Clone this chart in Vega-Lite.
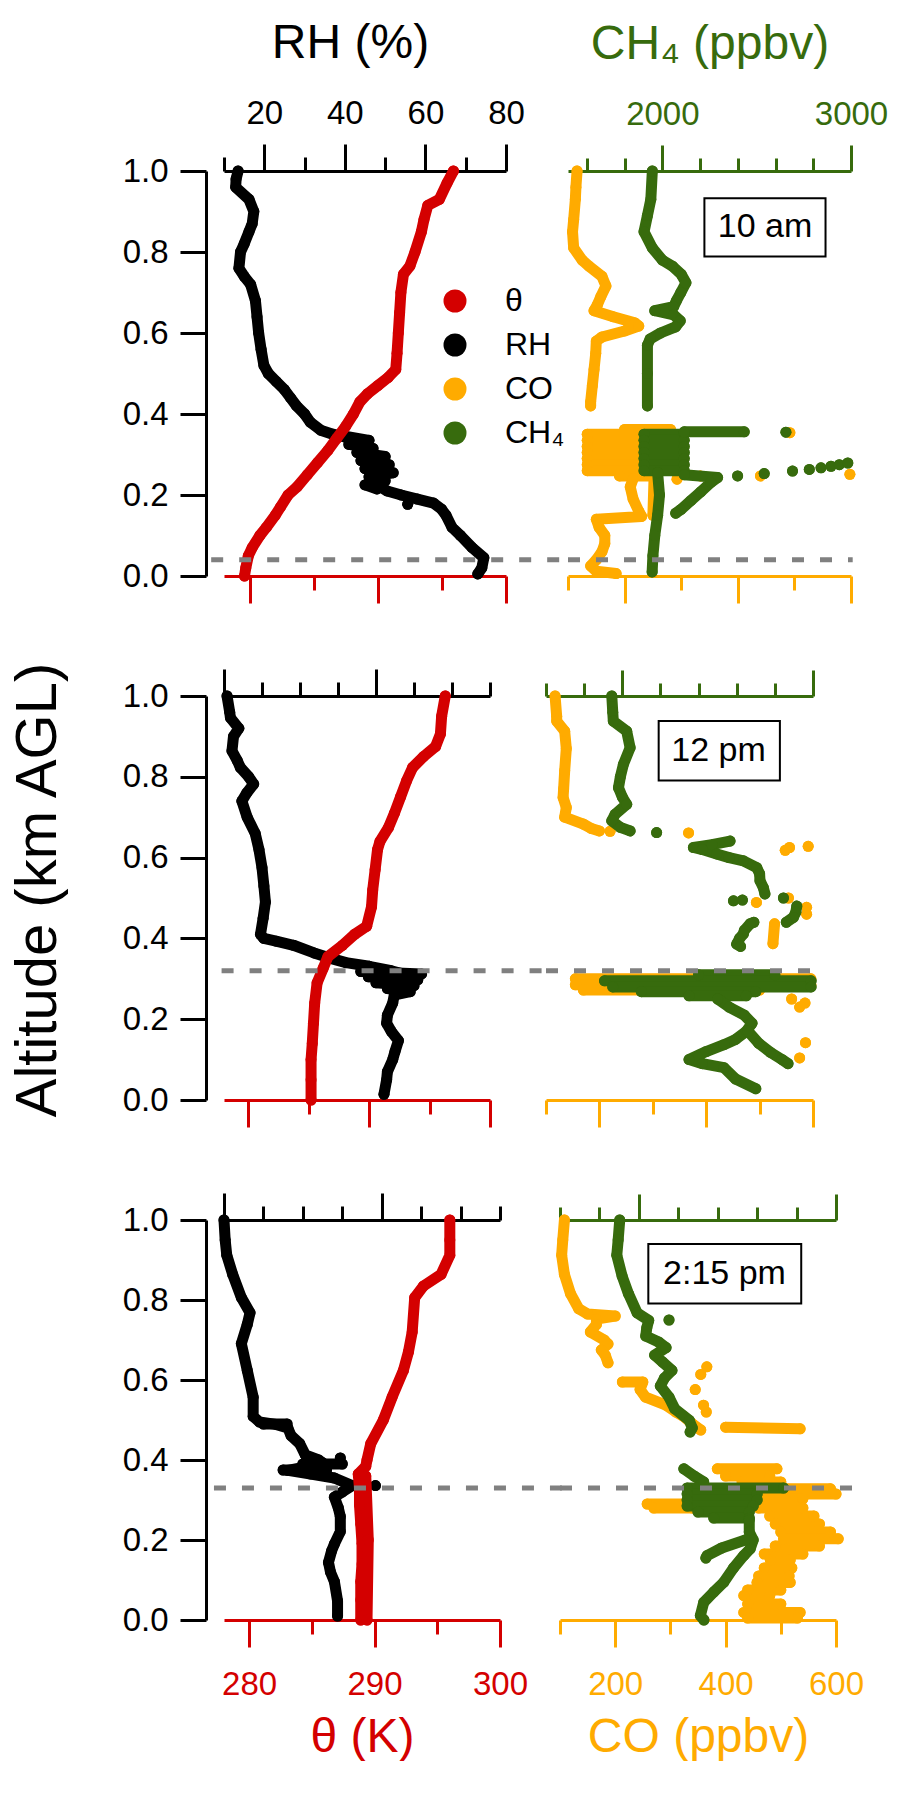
{
"$schema":"https://vega.github.io/schema/vega-lite/v6.json",
"padding":{"left":10,"top":19,"right":0,"bottom":0},
"background":"white",
"title":{"text":"Altitude (km AGL)","orient":"left","anchor":"middle","fontSize":58,"fontWeight":"normal","offset":54,"font":"Liberation Sans","color":"black"},
"data":{"values":[
{"p":1,"v":"θ","s":0,"a":1,"x":295.9},{"p":1,"v":"θ","s":0,"a":0.97,"x":295.4},{"p":1,"v":"θ","s":0,"a":0.93,"x":294.8},{"p":1,"v":"θ","s":0,"a":0.915,"x":293.9},{"p":1,"v":"θ","s":0,"a":0.88,"x":293.6},{"p":1,"v":"θ","s":0,"a":0.85,"x":293.4},{"p":1,"v":"θ","s":0,"a":0.8,"x":292.9},{"p":1,"v":"θ","s":0,"a":0.765,"x":292.5},{"p":1,"v":"θ","s":0,"a":0.745,"x":292.0},{"p":1,"v":"θ","s":0,"a":0.7,"x":291.8},{"p":1,"v":"θ","s":0,"a":0.65,"x":291.7},{"p":1,"v":"θ","s":0,"a":0.6,"x":291.6},{"p":1,"v":"θ","s":0,"a":0.55,"x":291.5},{"p":1,"v":"θ","s":0,"a":0.51,"x":291.4},{"p":1,"v":"θ","s":0,"a":0.49,"x":290.8},{"p":1,"v":"θ","s":0,"a":0.47,"x":290.0},{"p":1,"v":"θ","s":0,"a":0.45,"x":289.2},{"p":1,"v":"θ","s":0,"a":0.43,"x":288.6},{"p":1,"v":"θ","s":0,"a":0.4,"x":288.1},{"p":1,"v":"θ","s":0,"a":0.37,"x":287.5},{"p":1,"v":"θ","s":0,"a":0.34,"x":286.8},{"p":1,"v":"θ","s":0,"a":0.31,"x":286.1},{"p":1,"v":"θ","s":0,"a":0.28,"x":285.3},{"p":1,"v":"θ","s":0,"a":0.25,"x":284.5},{"p":1,"v":"θ","s":0,"a":0.22,"x":283.7},{"p":1,"v":"θ","s":0,"a":0.2,"x":283.0},{"p":1,"v":"θ","s":0,"a":0.17,"x":282.4},{"p":1,"v":"θ","s":0,"a":0.15,"x":282.0},{"p":1,"v":"θ","s":0,"a":0.12,"x":281.3},{"p":1,"v":"θ","s":0,"a":0.1,"x":280.8},{"p":1,"v":"θ","s":0,"a":0.07,"x":280.2},{"p":1,"v":"θ","s":0,"a":0.05,"x":279.9},{"p":1,"v":"θ","s":0,"a":0.02,"x":279.7},{"p":1,"v":"θ","s":0,"a":0,"x":279.6},
{"p":1,"v":"RH","s":0,"a":1,"x":13.5},{"p":1,"v":"RH","s":0,"a":0.98,"x":13.0},{"p":1,"v":"RH","s":0,"a":0.96,"x":12.9},{"p":1,"v":"RH","s":0,"a":0.93,"x":16.2},{"p":1,"v":"RH","s":0,"a":0.9,"x":17.4},{"p":1,"v":"RH","s":0,"a":0.87,"x":17.0},{"p":1,"v":"RH","s":0,"a":0.85,"x":16.2},{"p":1,"v":"RH","s":0,"a":0.82,"x":15.0},{"p":1,"v":"RH","s":0,"a":0.8,"x":14.1},{"p":1,"v":"RH","s":0,"a":0.76,"x":13.7},{"p":1,"v":"RH","s":0,"a":0.74,"x":15.0},{"p":1,"v":"RH","s":0,"a":0.72,"x":16.6},{"p":1,"v":"RH","s":0,"a":0.68,"x":17.8},{"p":1,"v":"RH","s":0,"a":0.64,"x":18.2},{"p":1,"v":"RH","s":0,"a":0.6,"x":18.6},{"p":1,"v":"RH","s":0,"a":0.56,"x":19.2},{"p":1,"v":"RH","s":0,"a":0.52,"x":19.9},{"p":1,"v":"RH","s":0,"a":0.5,"x":21},{"p":1,"v":"RH","s":0,"a":0.48,"x":23},{"p":1,"v":"RH","s":0,"a":0.46,"x":25},{"p":1,"v":"RH","s":0,"a":0.44,"x":26.5},{"p":1,"v":"RH","s":0,"a":0.42,"x":28},{"p":1,"v":"RH","s":0,"a":0.4,"x":30},{"p":1,"v":"RH","s":0,"a":0.38,"x":31.4},{"p":1,"v":"RH","s":0,"a":0.36,"x":34},{"p":1,"v":"RH","s":0,"a":0.35,"x":37},{"p":1,"v":"RH","s":0,"a":0.345,"x":39.5},{"p":1,"v":"RH","s":0,"a":0.33,"x":43},{"p":1,"v":"RH","s":0,"a":0.31,"x":44},{"p":1,"v":"RH","s":0,"a":0.29,"x":45.7},{"p":1,"v":"RH","s":0,"a":0.27,"x":47},{"p":1,"v":"RH","s":0,"a":0.25,"x":48.6},{"p":1,"v":"RH","s":0,"a":0.23,"x":47.2},{"p":1,"v":"RH","s":0,"a":0.21,"x":50.5},{"p":1,"v":"RH","s":0,"a":0.2,"x":54},{"p":1,"v":"RH","s":0,"a":0.19,"x":58},{"p":1,"v":"RH","s":0,"a":0.18,"x":62},{"p":1,"v":"RH","s":0,"a":0.165,"x":64},{"p":1,"v":"RH","s":0,"a":0.15,"x":65.1},{"p":1,"v":"RH","s":0,"a":0.12,"x":66.6},{"p":1,"v":"RH","s":0,"a":0.1,"x":68.7},{"p":1,"v":"RH","s":0,"a":0.07,"x":71.6},{"p":1,"v":"RH","s":0,"a":0.045,"x":74.5},{"p":1,"v":"RH","s":0,"a":0.02,"x":74},{"p":1,"v":"RH","s":0,"a":0.005,"x":73},
{"p":1,"v":"RH","s":1,"a":0.345,"x":40},{"p":1,"v":"RH","s":1,"a":0.335,"x":46},{"p":1,"v":"RH","s":1,"a":0.325,"x":41},{"p":1,"v":"RH","s":1,"a":0.315,"x":47},{"p":1,"v":"RH","s":1,"a":0.305,"x":43},{"p":1,"v":"RH","s":1,"a":0.295,"x":50},{"p":1,"v":"RH","s":1,"a":0.285,"x":44},{"p":1,"v":"RH","s":1,"a":0.275,"x":51},{"p":1,"v":"RH","s":1,"a":0.265,"x":45},{"p":1,"v":"RH","s":1,"a":0.255,"x":52},{"p":1,"v":"RH","s":1,"a":0.245,"x":46},{"p":1,"v":"RH","s":1,"a":0.235,"x":50},{"p":1,"v":"RH","s":1,"a":0.225,"x":45},{"p":1,"v":"RH","s":1,"a":0.215,"x":48},{"p":1,"v":"RH","s":5,"a":0.177,"x":55.6},
{"p":1,"v":"CO","s":0,"a":1,"x":116},{"p":1,"v":"CO","s":0,"a":0.96,"x":114},{"p":1,"v":"CO","s":0,"a":0.93,"x":113},{"p":1,"v":"CO","s":0,"a":0.88,"x":110},{"p":1,"v":"CO","s":0,"a":0.85,"x":108},{"p":1,"v":"CO","s":0,"a":0.81,"x":110},{"p":1,"v":"CO","s":0,"a":0.78,"x":125},{"p":1,"v":"CO","s":0,"a":0.765,"x":137},{"p":1,"v":"CO","s":0,"a":0.74,"x":160},{"p":1,"v":"CO","s":0,"a":0.716,"x":167},{"p":1,"v":"CO","s":0,"a":0.69,"x":158},{"p":1,"v":"CO","s":0,"a":0.67,"x":152},{"p":1,"v":"CO","s":0,"a":0.655,"x":146},{"p":1,"v":"CO","s":0,"a":0.64,"x":180},{"p":1,"v":"CO","s":0,"a":0.625,"x":218},{"p":1,"v":"CO","s":0,"a":0.617,"x":225},{"p":1,"v":"CO","s":0,"a":0.605,"x":200},{"p":1,"v":"CO","s":0,"a":0.59,"x":160},{"p":1,"v":"CO","s":0,"a":0.58,"x":150},{"p":1,"v":"CO","s":0,"a":0.55,"x":149},{"p":1,"v":"CO","s":0,"a":0.51,"x":146},{"p":1,"v":"CO","s":0,"a":0.47,"x":143},{"p":1,"v":"CO","s":0,"a":0.43,"x":140},{"p":1,"v":"CO","s":0,"a":0.42,"x":140},
{"p":1,"v":"CO","s":1,"a":0.362,"x":200},{"p":1,"v":"CO","s":1,"a":0.362,"x":281},{"p":1,"v":"CO","s":2,"a":0.35,"x":134},{"p":1,"v":"CO","s":2,"a":0.35,"x":260},{"p":1,"v":"CO","s":3,"a":0.335,"x":134},{"p":1,"v":"CO","s":3,"a":0.335,"x":234},{"p":1,"v":"CO","s":4,"a":0.32,"x":134},{"p":1,"v":"CO","s":4,"a":0.32,"x":234},{"p":1,"v":"CO","s":5,"a":0.305,"x":134},{"p":1,"v":"CO","s":5,"a":0.305,"x":234},{"p":1,"v":"CO","s":6,"a":0.29,"x":134},{"p":1,"v":"CO","s":6,"a":0.29,"x":234},{"p":1,"v":"CO","s":7,"a":0.275,"x":134},{"p":1,"v":"CO","s":7,"a":0.275,"x":234},{"p":1,"v":"CO","s":8,"a":0.26,"x":134},{"p":1,"v":"CO","s":8,"a":0.26,"x":234},{"p":1,"v":"CO","s":9,"a":0.247,"x":191},{"p":1,"v":"CO","s":9,"a":0.247,"x":252},
{"p":1,"v":"CO","s":10,"a":0.24,"x":215},{"p":1,"v":"CO","s":10,"a":0.22,"x":210},{"p":1,"v":"CO","s":10,"a":0.19,"x":215},{"p":1,"v":"CO","s":10,"a":0.16,"x":225},{"p":1,"v":"CO","s":10,"a":0.147,"x":230},{"p":1,"v":"CO","s":10,"a":0.14,"x":150},{"p":1,"v":"CO","s":10,"a":0.12,"x":155},{"p":1,"v":"CO","s":10,"a":0.1,"x":165},{"p":1,"v":"CO","s":10,"a":0.08,"x":165},{"p":1,"v":"CO","s":10,"a":0.06,"x":160},{"p":1,"v":"CO","s":10,"a":0.04,"x":150},{"p":1,"v":"CO","s":10,"a":0.025,"x":140},{"p":1,"v":"CO","s":10,"a":0.012,"x":150},{"p":1,"v":"CO","s":10,"a":0.006,"x":185},
{"p":1,"v":"CO","s":11,"a":0.24,"x":252},{"p":1,"v":"CO","s":11,"a":0.15,"x":250},{"p":1,"v":"CO","s":20,"a":0.239,"x":292.6},{"p":1,"v":"CO","s":21,"a":0.247,"x":334},{"p":1,"v":"CO","s":22,"a":0.247,"x":440},{"p":1,"v":"CO","s":23,"a":0.251,"x":598},{"p":1,"v":"CO","s":24,"a":0.354,"x":492},
{"p":1,"v":"CH₄","s":0,"a":1,"x":1947},{"p":1,"v":"CH₄","s":0,"a":0.93,"x":1939},{"p":1,"v":"CH₄","s":0,"a":0.89,"x":1921},{"p":1,"v":"CH₄","s":0,"a":0.85,"x":1903},{"p":1,"v":"CH₄","s":0,"a":0.81,"x":1947},{"p":1,"v":"CH₄","s":0,"a":0.78,"x":2000},{"p":1,"v":"CH₄","s":0,"a":0.765,"x":2054},{"p":1,"v":"CH₄","s":0,"a":0.745,"x":2100},{"p":1,"v":"CH₄","s":0,"a":0.724,"x":2125},{"p":1,"v":"CH₄","s":0,"a":0.7,"x":2098},{"p":1,"v":"CH₄","s":0,"a":0.68,"x":2075},{"p":1,"v":"CH₄","s":0,"a":0.665,"x":2060},{"p":1,"v":"CH₄","s":0,"a":0.655,"x":1960},{"p":1,"v":"CH₄","s":0,"a":0.645,"x":2060},{"p":1,"v":"CH₄","s":0,"a":0.63,"x":2095},{"p":1,"v":"CH₄","s":0,"a":0.615,"x":2070},{"p":1,"v":"CH₄","s":0,"a":0.6,"x":1990},{"p":1,"v":"CH₄","s":0,"a":0.585,"x":1935},{"p":1,"v":"CH₄","s":0,"a":0.57,"x":1921},{"p":1,"v":"CH₄","s":0,"a":0.5,"x":1921},{"p":1,"v":"CH₄","s":0,"a":0.42,"x":1921},
{"p":1,"v":"CH₄","s":1,"a":0.35,"x":1903},{"p":1,"v":"CH₄","s":1,"a":0.35,"x":2116},{"p":1,"v":"CH₄","s":2,"a":0.335,"x":1903},{"p":1,"v":"CH₄","s":2,"a":0.335,"x":2116},{"p":1,"v":"CH₄","s":3,"a":0.32,"x":1903},{"p":1,"v":"CH₄","s":3,"a":0.32,"x":2116},{"p":1,"v":"CH₄","s":4,"a":0.305,"x":1903},{"p":1,"v":"CH₄","s":4,"a":0.305,"x":2116},{"p":1,"v":"CH₄","s":5,"a":0.29,"x":1903},{"p":1,"v":"CH₄","s":5,"a":0.29,"x":2116},{"p":1,"v":"CH₄","s":6,"a":0.275,"x":1903},{"p":1,"v":"CH₄","s":6,"a":0.275,"x":2116},{"p":1,"v":"CH₄","s":7,"a":0.26,"x":1903},{"p":1,"v":"CH₄","s":7,"a":0.26,"x":2116},
{"p":1,"v":"CH₄","s":8,"a":0.356,"x":2116},{"p":1,"v":"CH₄","s":8,"a":0.356,"x":2434},{"p":1,"v":"CH₄","s":20,"a":0.355,"x":2655},
{"p":1,"v":"CH₄","s":21,"a":0.247,"x":2399},{"p":1,"v":"CH₄","s":22,"a":0.253,"x":2540},{"p":1,"v":"CH₄","s":23,"a":0.259,"x":2690},{"p":1,"v":"CH₄","s":24,"a":0.263,"x":2779},{"p":1,"v":"CH₄","s":25,"a":0.267,"x":2841},{"p":1,"v":"CH₄","s":26,"a":0.271,"x":2894},{"p":1,"v":"CH₄","s":27,"a":0.275,"x":2938},{"p":1,"v":"CH₄","s":28,"a":0.279,"x":2983},
{"p":1,"v":"CH₄","s":9,"a":0.25,"x":2116},{"p":1,"v":"CH₄","s":9,"a":0.243,"x":2293},{"p":1,"v":"CH₄","s":9,"a":0.231,"x":2257},{"p":1,"v":"CH₄","s":9,"a":0.208,"x":2204},{"p":1,"v":"CH₄","s":9,"a":0.186,"x":2151},{"p":1,"v":"CH₄","s":9,"a":0.164,"x":2098},{"p":1,"v":"CH₄","s":9,"a":0.155,"x":2071},
{"p":1,"v":"CH₄","s":10,"a":0.255,"x":1975},{"p":1,"v":"CH₄","s":10,"a":0.2,"x":1985},{"p":1,"v":"CH₄","s":10,"a":0.15,"x":1975},{"p":1,"v":"CH₄","s":10,"a":0.1,"x":1960},{"p":1,"v":"CH₄","s":10,"a":0.05,"x":1950},{"p":1,"v":"CH₄","s":10,"a":0.01,"x":1946},
{"p":2,"v":"θ","s":0,"a":1,"x":296.3},{"p":2,"v":"θ","s":0,"a":0.95,"x":296.0},{"p":2,"v":"θ","s":0,"a":0.906,"x":295.9},{"p":2,"v":"θ","s":0,"a":0.875,"x":295.5},{"p":2,"v":"θ","s":0,"a":0.85,"x":294.5},{"p":2,"v":"θ","s":0,"a":0.823,"x":293.6},{"p":2,"v":"θ","s":0,"a":0.79,"x":293.1},{"p":2,"v":"θ","s":0,"a":0.75,"x":292.6},{"p":2,"v":"θ","s":0,"a":0.71,"x":292.1},{"p":2,"v":"θ","s":0,"a":0.674,"x":291.6},{"p":2,"v":"θ","s":0,"a":0.64,"x":290.9},{"p":2,"v":"θ","s":0,"a":0.62,"x":290.7},{"p":2,"v":"θ","s":0,"a":0.57,"x":290.5},{"p":2,"v":"θ","s":0,"a":0.52,"x":290.3},{"p":2,"v":"θ","s":0,"a":0.478,"x":290.2},{"p":2,"v":"θ","s":0,"a":0.43,"x":289.8},{"p":2,"v":"θ","s":0,"a":0.41,"x":288.8},{"p":2,"v":"θ","s":0,"a":0.383,"x":287.8},{"p":2,"v":"θ","s":0,"a":0.355,"x":286.6},{"p":2,"v":"θ","s":0,"a":0.326,"x":286.2},{"p":2,"v":"θ","s":0,"a":0.29,"x":285.7},{"p":2,"v":"θ","s":0,"a":0.24,"x":285.5},{"p":2,"v":"θ","s":0,"a":0.19,"x":285.4},{"p":2,"v":"θ","s":0,"a":0.14,"x":285.3},{"p":2,"v":"θ","s":0,"a":0.1,"x":285.2},{"p":2,"v":"θ","s":0,"a":0.05,"x":285.2},{"p":2,"v":"θ","s":0,"a":0,"x":285.2},
{"p":2,"v":"RH","s":0,"a":1,"x":0.8},{"p":2,"v":"RH","s":0,"a":0.96,"x":1.5},{"p":2,"v":"RH","s":0,"a":0.946,"x":1.7},{"p":2,"v":"RH","s":0,"a":0.92,"x":3.9},{"p":2,"v":"RH","s":0,"a":0.9,"x":2.5},{"p":2,"v":"RH","s":0,"a":0.864,"x":2.1},{"p":2,"v":"RH","s":0,"a":0.84,"x":3.5},{"p":2,"v":"RH","s":0,"a":0.823,"x":4.3},{"p":2,"v":"RH","s":0,"a":0.8,"x":6.5},{"p":2,"v":"RH","s":0,"a":0.782,"x":7.8},{"p":2,"v":"RH","s":0,"a":0.76,"x":6},{"p":2,"v":"RH","s":0,"a":0.74,"x":4.7},{"p":2,"v":"RH","s":0,"a":0.7,"x":6.1},{"p":2,"v":"RH","s":0,"a":0.66,"x":8.2},{"p":2,"v":"RH","s":0,"a":0.62,"x":9.2},{"p":2,"v":"RH","s":0,"a":0.575,"x":10},{"p":2,"v":"RH","s":0,"a":0.53,"x":10.5},{"p":2,"v":"RH","s":0,"a":0.49,"x":10.9},{"p":2,"v":"RH","s":0,"a":0.45,"x":10.3},{"p":2,"v":"RH","s":0,"a":0.41,"x":9.6},{"p":2,"v":"RH","s":0,"a":0.4,"x":10.5},{"p":2,"v":"RH","s":0,"a":0.393,"x":13.7},{"p":2,"v":"RH","s":0,"a":0.383,"x":18.3},{"p":2,"v":"RH","s":0,"a":0.364,"x":23.7},{"p":2,"v":"RH","s":0,"a":0.35,"x":28.3},{"p":2,"v":"RH","s":0,"a":0.34,"x":32.1},{"p":2,"v":"RH","s":0,"a":0.331,"x":38.2},{"p":2,"v":"RH","s":0,"a":0.32,"x":44},{"p":2,"v":"RH","s":0,"a":0.31,"x":48},{"p":2,"v":"RH","s":0,"a":0.3,"x":47},{"p":2,"v":"RH","s":0,"a":0.29,"x":46},{"p":2,"v":"RH","s":0,"a":0.27,"x":45},{"p":2,"v":"RH","s":0,"a":0.24,"x":44.4},{"p":2,"v":"RH","s":0,"a":0.21,"x":43},{"p":2,"v":"RH","s":0,"a":0.19,"x":42.8},{"p":2,"v":"RH","s":0,"a":0.17,"x":44},{"p":2,"v":"RH","s":0,"a":0.147,"x":45.9},{"p":2,"v":"RH","s":0,"a":0.12,"x":45},{"p":2,"v":"RH","s":0,"a":0.1,"x":44.4},{"p":2,"v":"RH","s":0,"a":0.07,"x":43},{"p":2,"v":"RH","s":0,"a":0.05,"x":42.8},{"p":2,"v":"RH","s":0,"a":0.014,"x":42.1},
{"p":2,"v":"RH","s":1,"a":0.318,"x":36},{"p":2,"v":"RH","s":1,"a":0.312,"x":52},{"p":2,"v":"RH","s":1,"a":0.305,"x":38},{"p":2,"v":"RH","s":1,"a":0.298,"x":51},{"p":2,"v":"RH","s":1,"a":0.29,"x":40},{"p":2,"v":"RH","s":1,"a":0.283,"x":50},{"p":2,"v":"RH","s":1,"a":0.276,"x":43},{"p":2,"v":"RH","s":1,"a":0.268,"x":49},{"p":2,"v":"RH","s":1,"a":0.26,"x":45},
{"p":2,"v":"CO","s":0,"a":1,"x":117},{"p":2,"v":"CO","s":0,"a":0.95,"x":120},{"p":2,"v":"CO","s":0,"a":0.938,"x":120},{"p":2,"v":"CO","s":0,"a":0.913,"x":135},{"p":2,"v":"CO","s":0,"a":0.87,"x":138},{"p":2,"v":"CO","s":0,"a":0.815,"x":135},{"p":2,"v":"CO","s":0,"a":0.77,"x":133},{"p":2,"v":"CO","s":0,"a":0.749,"x":132},{"p":2,"v":"CO","s":0,"a":0.724,"x":138},{"p":2,"v":"CO","s":0,"a":0.7,"x":135},{"p":2,"v":"CO","s":0,"a":0.683,"x":170},{"p":2,"v":"CO","s":0,"a":0.672,"x":185},{"p":2,"v":"CO","s":0,"a":0.666,"x":200},
{"p":2,"v":"CO","s":10,"a":0.665,"x":220},{"p":2,"v":"CO","s":11,"a":0.661,"x":367},{"p":2,"v":"CO","s":12,"a":0.625,"x":556},{"p":2,"v":"CO","s":13,"a":0.618,"x":548},{"p":2,"v":"CO","s":14,"a":0.628,"x":591},{"p":2,"v":"CO","s":15,"a":0.5,"x":554},{"p":2,"v":"CO","s":16,"a":0.489,"x":494},{"p":2,"v":"CO","s":17,"a":0.477,"x":588},{"p":2,"v":"CO","s":18,"a":0.46,"x":588},{"p":2,"v":"CO","s":19,"a":0.25,"x":560},{"p":2,"v":"CO","s":20,"a":0.24,"x":585},{"p":2,"v":"CO","s":21,"a":0.23,"x":575},{"p":2,"v":"CO","s":22,"a":0.142,"x":586},{"p":2,"v":"CO","s":23,"a":0.104,"x":575},
{"p":2,"v":"CO","s":1,"a":0.436,"x":528},{"p":2,"v":"CO","s":1,"a":0.387,"x":525},{"p":2,"v":"CO","s":2,"a":0.3,"x":155},{"p":2,"v":"CO","s":2,"a":0.3,"x":596},{"p":2,"v":"CO","s":3,"a":0.285,"x":155},{"p":2,"v":"CO","s":3,"a":0.285,"x":596},{"p":2,"v":"CO","s":4,"a":0.272,"x":170},{"p":2,"v":"CO","s":4,"a":0.272,"x":500},
{"p":2,"v":"CH₄","s":0,"a":1,"x":1945},{"p":2,"v":"CH₄","s":0,"a":0.96,"x":1950},{"p":2,"v":"CH₄","s":0,"a":0.938,"x":1953},{"p":2,"v":"CH₄","s":0,"a":0.913,"x":2023},{"p":2,"v":"CH₄","s":0,"a":0.872,"x":2041},{"p":2,"v":"CH₄","s":0,"a":0.831,"x":2006},{"p":2,"v":"CH₄","s":0,"a":0.8,"x":1990},{"p":2,"v":"CH₄","s":0,"a":0.773,"x":1980},{"p":2,"v":"CH₄","s":0,"a":0.75,"x":2000},{"p":2,"v":"CH₄","s":0,"a":0.732,"x":2023},{"p":2,"v":"CH₄","s":0,"a":0.707,"x":1962},{"p":2,"v":"CH₄","s":0,"a":0.691,"x":1945},{"p":2,"v":"CH₄","s":0,"a":0.675,"x":1990},{"p":2,"v":"CH₄","s":0,"a":0.666,"x":2041},
{"p":2,"v":"CH₄","s":20,"a":0.662,"x":2180},
{"p":2,"v":"CH₄","s":1,"a":0.641,"x":2565},{"p":2,"v":"CH₄","s":1,"a":0.632,"x":2470},{"p":2,"v":"CH₄","s":1,"a":0.625,"x":2373},{"p":2,"v":"CH₄","s":1,"a":0.62,"x":2420},{"p":2,"v":"CH₄","s":1,"a":0.609,"x":2495},{"p":2,"v":"CH₄","s":1,"a":0.6,"x":2560},{"p":2,"v":"CH₄","s":1,"a":0.592,"x":2635},{"p":2,"v":"CH₄","s":1,"a":0.575,"x":2705},{"p":2,"v":"CH₄","s":1,"a":0.56,"x":2720},{"p":2,"v":"CH₄","s":1,"a":0.543,"x":2722},{"p":2,"v":"CH₄","s":1,"a":0.525,"x":2740},{"p":2,"v":"CH₄","s":1,"a":0.51,"x":2748},
{"p":2,"v":"CH₄","s":21,"a":0.493,"x":2583},{"p":2,"v":"CH₄","s":22,"a":0.495,"x":2630},{"p":2,"v":"CH₄","s":23,"a":0.5,"x":2845},
{"p":2,"v":"CH₄","s":2,"a":0.48,"x":2915},{"p":2,"v":"CH₄","s":2,"a":0.465,"x":2910},{"p":2,"v":"CH₄","s":2,"a":0.452,"x":2897},{"p":2,"v":"CH₄","s":2,"a":0.44,"x":2860},
{"p":2,"v":"CH₄","s":3,"a":0.44,"x":2690},{"p":2,"v":"CH₄","s":3,"a":0.436,"x":2670},{"p":2,"v":"CH₄","s":3,"a":0.42,"x":2640},{"p":2,"v":"CH₄","s":3,"a":0.411,"x":2635},{"p":2,"v":"CH₄","s":3,"a":0.4,"x":2615},{"p":2,"v":"CH₄","s":3,"a":0.386,"x":2600},{"p":2,"v":"CH₄","s":3,"a":0.38,"x":2620},
{"p":2,"v":"CH₄","s":4,"a":0.31,"x":2400},{"p":2,"v":"CH₄","s":4,"a":0.31,"x":2800},{"p":2,"v":"CH₄","s":5,"a":0.295,"x":1907},{"p":2,"v":"CH₄","s":5,"a":0.295,"x":2990},{"p":2,"v":"CH₄","s":6,"a":0.28,"x":1950},{"p":2,"v":"CH₄","s":6,"a":0.28,"x":2990},{"p":2,"v":"CH₄","s":7,"a":0.268,"x":2100},{"p":2,"v":"CH₄","s":7,"a":0.268,"x":2700},{"p":2,"v":"CH₄","s":8,"a":0.258,"x":2350},{"p":2,"v":"CH₄","s":8,"a":0.258,"x":2650},
{"p":2,"v":"CH₄","s":9,"a":0.25,"x":2500},{"p":2,"v":"CH₄","s":9,"a":0.23,"x":2560},{"p":2,"v":"CH₄","s":9,"a":0.21,"x":2640},{"p":2,"v":"CH₄","s":9,"a":0.19,"x":2680},{"p":2,"v":"CH₄","s":9,"a":0.17,"x":2650},{"p":2,"v":"CH₄","s":9,"a":0.15,"x":2594},{"p":2,"v":"CH₄","s":9,"a":0.137,"x":2533},{"p":2,"v":"CH₄","s":9,"a":0.12,"x":2440},{"p":2,"v":"CH₄","s":9,"a":0.1,"x":2350},{"p":2,"v":"CH₄","s":9,"a":0.09,"x":2420},{"p":2,"v":"CH₄","s":9,"a":0.08,"x":2533},{"p":2,"v":"CH₄","s":9,"a":0.052,"x":2594},{"p":2,"v":"CH₄","s":9,"a":0.028,"x":2700},
{"p":2,"v":"CH₄","s":10,"a":0.17,"x":2660},{"p":2,"v":"CH₄","s":10,"a":0.14,"x":2716},{"p":2,"v":"CH₄","s":10,"a":0.118,"x":2777},{"p":2,"v":"CH₄","s":10,"a":0.1,"x":2838},{"p":2,"v":"CH₄","s":10,"a":0.09,"x":2869},
{"p":3,"v":"θ","s":0,"a":1,"x":296.0},{"p":3,"v":"θ","s":0,"a":0.95,"x":296.0},{"p":3,"v":"θ","s":0,"a":0.912,"x":296.0},{"p":3,"v":"θ","s":0,"a":0.864,"x":295.3},{"p":3,"v":"θ","s":0,"a":0.835,"x":293.9},{"p":3,"v":"θ","s":0,"a":0.806,"x":293.2},{"p":3,"v":"θ","s":0,"a":0.72,"x":293.0},{"p":3,"v":"θ","s":0,"a":0.67,"x":292.7},{"p":3,"v":"θ","s":0,"a":0.624,"x":292.3},{"p":3,"v":"θ","s":0,"a":0.557,"x":291.4},{"p":3,"v":"θ","s":0,"a":0.5,"x":290.7},{"p":3,"v":"θ","s":0,"a":0.441,"x":289.7},{"p":3,"v":"θ","s":0,"a":0.4,"x":289.4},{"p":3,"v":"θ","s":0,"a":0.384,"x":289.3},{"p":3,"v":"θ","s":0,"a":0.365,"x":288.7},{"p":3,"v":"θ","s":0,"a":0.33,"x":288.8},{"p":3,"v":"θ","s":0,"a":0.288,"x":288.8},{"p":3,"v":"θ","s":0,"a":0.24,"x":288.9},{"p":3,"v":"θ","s":0,"a":0.192,"x":289.0},{"p":3,"v":"θ","s":0,"a":0.14,"x":289.0},{"p":3,"v":"θ","s":0,"a":0.096,"x":288.9},{"p":3,"v":"θ","s":0,"a":0.05,"x":288.9},{"p":3,"v":"θ","s":0,"a":0,"x":288.9},
{"p":3,"v":"θ","s":1,"a":0.36,"x":289.3},{"p":3,"v":"θ","s":1,"a":0.2,"x":289.5},{"p":3,"v":"θ","s":1,"a":0,"x":289.4},
{"p":3,"v":"RH","s":0,"a":1,"x":0},{"p":3,"v":"RH","s":0,"a":0.95,"x":0.3},{"p":3,"v":"RH","s":0,"a":0.912,"x":0.7},{"p":3,"v":"RH","s":0,"a":0.864,"x":2.2},{"p":3,"v":"RH","s":0,"a":0.806,"x":4.4},{"p":3,"v":"RH","s":0,"a":0.768,"x":6.6},{"p":3,"v":"RH","s":0,"a":0.739,"x":5.9},{"p":3,"v":"RH","s":0,"a":0.691,"x":4.4},{"p":3,"v":"RH","s":0,"a":0.624,"x":5.9},{"p":3,"v":"RH","s":0,"a":0.557,"x":7.4},{"p":3,"v":"RH","s":0,"a":0.509,"x":7.4},{"p":3,"v":"RH","s":0,"a":0.495,"x":9},{"p":3,"v":"RH","s":0,"a":0.489,"x":13.2},{"p":3,"v":"RH","s":0,"a":0.48,"x":16.2},{"p":3,"v":"RH","s":0,"a":0.461,"x":17},{"p":3,"v":"RH","s":0,"a":0.441,"x":19.2},{"p":3,"v":"RH","s":0,"a":0.413,"x":20.6},{"p":3,"v":"RH","s":0,"a":0.4,"x":24},{"p":3,"v":"RH","s":0,"a":0.393,"x":25},{"p":3,"v":"RH","s":0,"a":0.385,"x":22},{"p":3,"v":"RH","s":0,"a":0.374,"x":16.2},{"p":3,"v":"RH","s":0,"a":0.365,"x":22},{"p":3,"v":"RH","s":0,"a":0.355,"x":28},{"p":3,"v":"RH","s":0,"a":0.336,"x":32.5},{"p":3,"v":"RH","s":0,"a":0.32,"x":30},{"p":3,"v":"RH","s":0,"a":0.307,"x":28},{"p":3,"v":"RH","s":0,"a":0.28,"x":29},{"p":3,"v":"RH","s":0,"a":0.259,"x":29.5},{"p":3,"v":"RH","s":0,"a":0.221,"x":29.5},{"p":3,"v":"RH","s":0,"a":0.19,"x":28},{"p":3,"v":"RH","s":0,"a":0.173,"x":27.3},{"p":3,"v":"RH","s":0,"a":0.144,"x":26.5},{"p":3,"v":"RH","s":0,"a":0.12,"x":27},{"p":3,"v":"RH","s":0,"a":0.096,"x":28},{"p":3,"v":"RH","s":0,"a":0.048,"x":28.8},{"p":3,"v":"RH","s":0,"a":0.01,"x":28.8},
{"p":3,"v":"RH","s":1,"a":0.39,"x":20},{"p":3,"v":"RH","s":1,"a":0.39,"x":30},{"p":3,"v":"RH","s":2,"a":0.375,"x":15},{"p":3,"v":"RH","s":2,"a":0.375,"x":26},{"p":3,"v":"RH","s":3,"a":0.49,"x":10},{"p":3,"v":"RH","s":3,"a":0.49,"x":16},{"p":3,"v":"RH","s":20,"a":0.336,"x":38.4},{"p":3,"v":"RH","s":21,"a":0.405,"x":29.5},
{"p":3,"v":"CO","s":0,"a":1,"x":108},{"p":3,"v":"CO","s":0,"a":0.95,"x":105},{"p":3,"v":"CO","s":0,"a":0.912,"x":103},{"p":3,"v":"CO","s":0,"a":0.864,"x":108},{"p":3,"v":"CO","s":0,"a":0.816,"x":119},{"p":3,"v":"CO","s":0,"a":0.778,"x":134},{"p":3,"v":"CO","s":0,"a":0.765,"x":150},{"p":3,"v":"CO","s":0,"a":0.76,"x":200},{"p":3,"v":"CO","s":0,"a":0.752,"x":166},{"p":3,"v":"CO","s":0,"a":0.739,"x":166},{"p":3,"v":"CO","s":0,"a":0.72,"x":155},{"p":3,"v":"CO","s":0,"a":0.7,"x":180},{"p":3,"v":"CO","s":0,"a":0.69,"x":187},{"p":3,"v":"CO","s":0,"a":0.675,"x":175},{"p":3,"v":"CO","s":0,"a":0.662,"x":182},{"p":3,"v":"CO","s":0,"a":0.643,"x":187},
{"p":3,"v":"CO","s":20,"a":0.633,"x":366},{"p":3,"v":"CO","s":21,"a":0.614,"x":355},{"p":3,"v":"CO","s":22,"a":0.576,"x":345},{"p":3,"v":"CO","s":23,"a":0.537,"x":360},{"p":3,"v":"CO","s":24,"a":0.52,"x":365},
{"p":3,"v":"CO","s":1,"a":0.595,"x":213},{"p":3,"v":"CO","s":1,"a":0.595,"x":250},{"p":3,"v":"CO","s":1,"a":0.576,"x":245},{"p":3,"v":"CO","s":1,"a":0.557,"x":255},{"p":3,"v":"CO","s":1,"a":0.537,"x":292},{"p":3,"v":"CO","s":1,"a":0.52,"x":310},{"p":3,"v":"CO","s":1,"a":0.509,"x":324},{"p":3,"v":"CO","s":1,"a":0.49,"x":340},{"p":3,"v":"CO","s":1,"a":0.475,"x":355},
{"p":3,"v":"CO","s":2,"a":0.482,"x":400},{"p":3,"v":"CO","s":2,"a":0.478,"x":535},
{"p":3,"v":"CO","s":3,"a":0.378,"x":385},{"p":3,"v":"CO","s":3,"a":0.378,"x":493},{"p":3,"v":"CO","s":4,"a":0.36,"x":400},{"p":3,"v":"CO","s":4,"a":0.36,"x":480},{"p":3,"v":"CO","s":5,"a":0.345,"x":430},{"p":3,"v":"CO","s":5,"a":0.345,"x":500},{"p":3,"v":"CO","s":6,"a":0.328,"x":470},{"p":3,"v":"CO","s":6,"a":0.328,"x":590},{"p":3,"v":"CO","s":7,"a":0.315,"x":480},{"p":3,"v":"CO","s":7,"a":0.315,"x":600},{"p":3,"v":"CO","s":8,"a":0.303,"x":470},{"p":3,"v":"CO","s":8,"a":0.303,"x":540},{"p":3,"v":"CO","s":9,"a":0.29,"x":258},{"p":3,"v":"CO","s":9,"a":0.29,"x":336},{"p":3,"v":"CO","s":10,"a":0.28,"x":270},{"p":3,"v":"CO","s":10,"a":0.28,"x":340},{"p":3,"v":"CO","s":11,"a":0.28,"x":460},{"p":3,"v":"CO","s":11,"a":0.28,"x":540},{"p":3,"v":"CO","s":12,"a":0.26,"x":480},{"p":3,"v":"CO","s":12,"a":0.26,"x":560},{"p":3,"v":"CO","s":13,"a":0.24,"x":490},{"p":3,"v":"CO","s":13,"a":0.24,"x":570},{"p":3,"v":"CO","s":14,"a":0.22,"x":500},{"p":3,"v":"CO","s":14,"a":0.22,"x":590},{"p":3,"v":"CO","s":15,"a":0.203,"x":505},{"p":3,"v":"CO","s":15,"a":0.203,"x":604},{"p":3,"v":"CO","s":16,"a":0.185,"x":490},{"p":3,"v":"CO","s":16,"a":0.185,"x":570},{"p":3,"v":"CO","s":17,"a":0.165,"x":470},{"p":3,"v":"CO","s":17,"a":0.165,"x":540},{"p":3,"v":"CO","s":18,"a":0.15,"x":481},{"p":3,"v":"CO","s":18,"a":0.15,"x":517},{"p":3,"v":"CO","s":19,"a":0.13,"x":470},{"p":3,"v":"CO","s":19,"a":0.13,"x":520},{"p":3,"v":"CO","s":25,"a":0.11,"x":460},{"p":3,"v":"CO","s":25,"a":0.11,"x":515},{"p":3,"v":"CO","s":26,"a":0.094,"x":457},{"p":3,"v":"CO","s":26,"a":0.094,"x":517},{"p":3,"v":"CO","s":27,"a":0.075,"x":440},{"p":3,"v":"CO","s":27,"a":0.075,"x":500},{"p":3,"v":"CO","s":28,"a":0.061,"x":433},{"p":3,"v":"CO","s":28,"a":0.061,"x":480},{"p":3,"v":"CO","s":29,"a":0.04,"x":440},{"p":3,"v":"CO","s":29,"a":0.04,"x":500},{"p":3,"v":"CO","s":30,"a":0.019,"x":433},{"p":3,"v":"CO","s":30,"a":0.019,"x":535},{"p":3,"v":"CO","s":31,"a":0.005,"x":440},{"p":3,"v":"CO","s":31,"a":0.005,"x":530},
{"p":3,"v":"CH₄","s":0,"a":1,"x":1903},{"p":3,"v":"CH₄","s":0,"a":0.95,"x":1895},{"p":3,"v":"CH₄","s":0,"a":0.912,"x":1888},{"p":3,"v":"CH₄","s":0,"a":0.86,"x":1915},{"p":3,"v":"CH₄","s":0,"a":0.816,"x":1947},{"p":3,"v":"CH₄","s":0,"a":0.768,"x":1991},{"p":3,"v":"CH₄","s":0,"a":0.749,"x":2050},{"p":3,"v":"CH₄","s":0,"a":0.73,"x":2040},{"p":3,"v":"CH₄","s":0,"a":0.71,"x":2035},{"p":3,"v":"CH₄","s":0,"a":0.695,"x":2100},{"p":3,"v":"CH₄","s":0,"a":0.681,"x":2138},{"p":3,"v":"CH₄","s":0,"a":0.662,"x":2080},{"p":3,"v":"CH₄","s":0,"a":0.645,"x":2120},{"p":3,"v":"CH₄","s":0,"a":0.624,"x":2168},{"p":3,"v":"CH₄","s":0,"a":0.605,"x":2130},{"p":3,"v":"CH₄","s":0,"a":0.585,"x":2109},{"p":3,"v":"CH₄","s":0,"a":0.557,"x":2153},{"p":3,"v":"CH₄","s":0,"a":0.528,"x":2182},{"p":3,"v":"CH₄","s":0,"a":0.499,"x":2256},{"p":3,"v":"CH₄","s":0,"a":0.48,"x":2271},{"p":3,"v":"CH₄","s":0,"a":0.47,"x":2260},
{"p":3,"v":"CH₄","s":20,"a":0.75,"x":2153},
{"p":3,"v":"CH₄","s":1,"a":0.378,"x":2228},{"p":3,"v":"CH₄","s":1,"a":0.36,"x":2280},{"p":3,"v":"CH₄","s":1,"a":0.345,"x":2329},
{"p":3,"v":"CH₄","s":2,"a":0.33,"x":2245},{"p":3,"v":"CH₄","s":2,"a":0.33,"x":2734},{"p":3,"v":"CH₄","s":3,"a":0.315,"x":2245},{"p":3,"v":"CH₄","s":3,"a":0.315,"x":2600},{"p":3,"v":"CH₄","s":4,"a":0.3,"x":2245},{"p":3,"v":"CH₄","s":4,"a":0.3,"x":2600},{"p":3,"v":"CH₄","s":5,"a":0.285,"x":2245},{"p":3,"v":"CH₄","s":5,"a":0.285,"x":2580},{"p":3,"v":"CH₄","s":6,"a":0.27,"x":2300},{"p":3,"v":"CH₄","s":6,"a":0.27,"x":2560},{"p":3,"v":"CH₄","s":7,"a":0.255,"x":2380},{"p":3,"v":"CH₄","s":7,"a":0.255,"x":2560},
{"p":3,"v":"CH₄","s":8,"a":0.25,"x":2560},{"p":3,"v":"CH₄","s":8,"a":0.22,"x":2560},{"p":3,"v":"CH₄","s":8,"a":0.2,"x":2580},{"p":3,"v":"CH₄","s":8,"a":0.178,"x":2565},{"p":3,"v":"CH₄","s":8,"a":0.161,"x":2532},{"p":3,"v":"CH₄","s":8,"a":0.13,"x":2480},{"p":3,"v":"CH₄","s":8,"a":0.094,"x":2430},{"p":3,"v":"CH₄","s":8,"a":0.07,"x":2380},{"p":3,"v":"CH₄","s":8,"a":0.044,"x":2329},{"p":3,"v":"CH₄","s":8,"a":0.011,"x":2312},{"p":3,"v":"CH₄","s":8,"a":0,"x":2330},
{"p":3,"v":"CH₄","s":9,"a":0.2,"x":2540},{"p":3,"v":"CH₄","s":9,"a":0.18,"x":2420},{"p":3,"v":"CH₄","s":9,"a":0.161,"x":2346},{"p":3,"v":"CH₄","s":9,"a":0.155,"x":2340},
{"p":1,"v":"BL","a":0.04},{"p":2,"v":"BL","a":0.32},{"p":3,"v":"BL","a":0.33},
{"p":1,"v":"label","t":"10 am"},{"p":2,"v":"label","t":"12 pm"},{"p":3,"v":"label","t":"2:15 pm"}
]},
"vconcat":[
{"hconcat":[
 {"width":282,"height":405,
  "layer":[
   {"transform":[{"filter":"datum.p===1 && datum.v==='RH'"}],
    "encoding":{"x":{"field":"x","type":"quantitative","scale":{"domain":[10,80],"nice":false,"zero":false},
       "axis":{"orient":"top","values":[10,20,30,40,50,60,70,80],"tickSize":{"condition":{"test":"datum.value % 20 === 0","value":27},"value":14},"labelExpr":"datum.value % 20 === 0 ? datum.label : ''","labelPadding":14,"title":"RH (%)","titlePadding":30,"titleX":126,"domainColor":"black","tickColor":"black","labelColor":"black","titleColor":"black"}},
     "y":{"field":"a","type":"quantitative","scale":{"domain":[0,1],"nice":false,"zero":false},"axis":{"values":[0,0.2,0.4,0.6,0.8,1],"format":".1f","tickSize":26,"offset":18,"labelPadding":12,"title":null}}},
    "layer":[
     {"mark":{"type":"line","color":"#000000","strokeWidth":11,"strokeCap":"round","strokeJoin":"round"},"encoding":{"detail":{"field":"s","type":"nominal"},"order":{"field":"a","sort":"descending"}}},
     {"mark":{"type":"point","filled":true,"size":121,"opacity":1},"encoding":{"color":{"field":"v","type":"nominal","title":null,"scale":{"domain":["θ","RH","CO","CH₄"],"range":["#d40000","#000000","#ffab00","#376b0d"]}}}}
    ]},
   {"transform":[{"filter":"datum.p===1 && datum.v==='θ'"}],
    "encoding":{"x":{"field":"x","type":"quantitative","scale":{"domain":[278,300],"nice":false,"zero":false},
       "axis":{"orient":"bottom","values":[280,285,290,295,300],"tickSize":{"condition":{"test":"datum.value % 10 === 0","value":27},"value":14},"labels":false,"title":null,"domainColor":"#d40000","tickColor":"#d40000"}},
     "y":{"field":"a","type":"quantitative","scale":{"domain":[0,1],"nice":false,"zero":false},"axis":{"values":[0,0.2,0.4,0.6,0.8,1],"format":".1f","tickSize":26,"offset":18,"labelPadding":12,"title":null}}},
    "layer":[
     {"mark":{"type":"line","color":"#d40000","strokeWidth":11,"strokeCap":"round","strokeJoin":"round"},"encoding":{"detail":{"field":"s","type":"nominal"},"order":{"field":"a","sort":"descending"}}},
     {"mark":{"type":"point","filled":true,"size":121,"opacity":1},"encoding":{"color":{"field":"v","type":"nominal","title":null,"scale":{"domain":["θ","RH","CO","CH₄"],"range":["#d40000","#000000","#ffab00","#376b0d"]}}}}
    ]},
   {"transform":[{"filter":"datum.p===1 && datum.v==='BL'"}],
    "mark":{"type":"rule","strokeDash":[12,16],"strokeWidth":5,"color":"#808080"},
    "encoding":{"x":{"datum":277,"type":"quantitative","scale":{"domain":[278,300],"nice":false,"zero":false},"axis":null},"x2":{"datum":305},
     "y":{"field":"a","type":"quantitative","scale":{"domain":[0,1],"nice":false,"zero":false},"axis":{"values":[0,0.2,0.4,0.6,0.8,1],"format":".1f","tickSize":26,"offset":18,"labelPadding":12,"title":null}}}}
  ],
  "resolve":{"scale":{"x":"independent"}}},
 {"width":283,"height":405,
  "layer":[
   {"transform":[{"filter":"datum.p===1 && datum.v==='CO'"}],
    "encoding":{"x":{"field":"x","type":"quantitative","scale":{"domain":[100,600],"nice":false,"zero":false},
       "axis":{"orient":"bottom","values":[100,200,300,400,500,600],"tickSize":{"condition":{"test":"datum.value % 200 === 0","value":27},"value":14},"labels":false,"title":null,"domainColor":"#ffab00","tickColor":"#ffab00"}},
     "y":{"field":"a","type":"quantitative","scale":{"domain":[0,1],"nice":false,"zero":false},"axis":null}},
    "layer":[
     {"mark":{"type":"line","color":"#ffab00","strokeWidth":11,"strokeCap":"round","strokeJoin":"round"},"encoding":{"detail":{"field":"s","type":"nominal"},"order":{"field":"a","sort":"descending"}}},
     {"mark":{"type":"point","filled":true,"size":121,"opacity":1},"encoding":{"color":{"field":"v","type":"nominal","title":null,"scale":{"domain":["θ","RH","CO","CH₄"],"range":["#d40000","#000000","#ffab00","#376b0d"]}}}}
    ]},
   {"transform":[{"filter":"datum.p===1 && datum.v==='CH₄'"}],
    "encoding":{"x":{"field":"x","type":"quantitative","scale":{"domain":[1500,3000],"nice":false,"zero":false},
       "axis":{"orient":"top","values":[1600,1800,2000,2200,2400,2600,2800,3000],"format":"d","tickSize":{"condition":{"test":"datum.value % 1000 === 0","value":26},"value":13},"labelExpr":"datum.value % 1000 === 0 ? datum.label : ''","labelPadding":14,"title":"CH₄ (ppbv)","titlePadding":30,"domainColor":"#376b0d","tickColor":"#376b0d","labelColor":"#376b0d","titleColor":"#376b0d"}},
     "y":{"field":"a","type":"quantitative","scale":{"domain":[0,1],"nice":false,"zero":false},"axis":null}},
    "layer":[
     {"mark":{"type":"line","color":"#376b0d","strokeWidth":11,"strokeCap":"round","strokeJoin":"round"},"encoding":{"detail":{"field":"s","type":"nominal"},"order":{"field":"a","sort":"descending"}}},
     {"mark":{"type":"point","filled":true,"size":121,"opacity":1},"encoding":{"color":{"field":"v","type":"nominal","title":null,"scale":{"domain":["θ","RH","CO","CH₄"],"range":["#d40000","#000000","#ffab00","#376b0d"]}}}}
    ]},
   {"transform":[{"filter":"datum.p===1 && datum.v==='BL'"}],
    "mark":{"type":"rule","strokeDash":[12,16],"strokeWidth":5,"color":"#808080"},
    "encoding":{"x":{"datum":100,"type":"quantitative","scale":{"domain":[100,600],"nice":false,"zero":false},"axis":null},"x2":{"datum":603},
     "y":{"field":"a","type":"quantitative","scale":{"domain":[0,1],"nice":false,"zero":false},"axis":null}}},
   {"transform":[{"filter":"datum.p===1 && datum.v==='label'"}],
    "mark":{"type":"rect","fill":"white","stroke":"black","strokeWidth":2},
    "encoding":{"x":{"datum":341,"type":"quantitative","scale":{"domain":[100,600],"nice":false,"zero":false},"axis":null},"x2":{"datum":555},
     "y":{"datum":0.789,"type":"quantitative","scale":{"domain":[0,1],"nice":false,"zero":false},"axis":null},"y2":{"datum":0.933}}},
   {"transform":[{"filter":"datum.p===1 && datum.v==='label'"}],
    "mark":{"type":"text","fontSize":34,"color":"black","align":"center","baseline":"middle"},
    "encoding":{"text":{"field":"t"},"x":{"datum":448,"type":"quantitative","scale":{"domain":[100,600],"nice":false,"zero":false},"axis":null},
     "y":{"datum":0.862,"type":"quantitative","scale":{"domain":[0,1],"nice":false,"zero":false},"axis":null}}}
  ],
  "resolve":{"scale":{"x":"independent"}}}
],"spacing":62,"bounds":"flush"},
{"hconcat":[
 {"width":266,"height":404,
  "layer":[
   {"transform":[{"filter":"datum.p===2 && datum.v==='RH'"}],
    "encoding":{"x":{"field":"x","type":"quantitative","scale":{"domain":[0,70],"nice":false,"zero":false},
       "axis":{"orient":"top","values":[0,10,20,30,40,50,60,70],"tickSize":{"condition":{"test":"datum.value % 40 === 0","value":27},"value":14},"labels":false,"title":null,"domainColor":"black","tickColor":"black"}},
     "y":{"field":"a","type":"quantitative","scale":{"domain":[0,1],"nice":false,"zero":false},"axis":{"values":[0,0.2,0.4,0.6,0.8,1],"format":".1f","tickSize":26,"offset":18,"labelPadding":12,"title":null}}},
    "layer":[
     {"mark":{"type":"line","color":"#000000","strokeWidth":11,"strokeCap":"round","strokeJoin":"round"},"encoding":{"detail":{"field":"s","type":"nominal"},"order":{"field":"a","sort":"descending"}}},
     {"mark":{"type":"point","filled":true,"size":121,"opacity":1},"encoding":{"color":{"field":"v","type":"nominal","title":null,"scale":{"domain":["θ","RH","CO","CH₄"],"range":["#d40000","#000000","#ffab00","#376b0d"]}}}}
    ]},
   {"transform":[{"filter":"datum.p===2 && datum.v==='θ'"}],
    "encoding":{"x":{"field":"x","type":"quantitative","scale":{"domain":[278,300],"nice":false,"zero":false},
       "axis":{"orient":"bottom","values":[280,285,290,295,300],"tickSize":{"condition":{"test":"datum.value % 10 === 0","value":27},"value":14},"labels":false,"title":null,"domainColor":"#d40000","tickColor":"#d40000"}},
     "y":{"field":"a","type":"quantitative","scale":{"domain":[0,1],"nice":false,"zero":false},"axis":{"values":[0,0.2,0.4,0.6,0.8,1],"format":".1f","tickSize":26,"offset":18,"labelPadding":12,"title":null}}},
    "layer":[
     {"mark":{"type":"line","color":"#d40000","strokeWidth":11,"strokeCap":"round","strokeJoin":"round"},"encoding":{"detail":{"field":"s","type":"nominal"},"order":{"field":"a","sort":"descending"}}},
     {"mark":{"type":"point","filled":true,"size":121,"opacity":1},"encoding":{"color":{"field":"v","type":"nominal","title":null,"scale":{"domain":["θ","RH","CO","CH₄"],"range":["#d40000","#000000","#ffab00","#376b0d"]}}}}
    ]},
   {"transform":[{"filter":"datum.p===2 && datum.v==='BL'"}],
    "mark":{"type":"rule","strokeDash":[12,16],"strokeWidth":5,"color":"#808080"},
    "encoding":{"x":{"datum":277.8,"type":"quantitative","scale":{"domain":[278,300],"nice":false,"zero":false},"axis":null},"x2":{"datum":305},
     "y":{"field":"a","type":"quantitative","scale":{"domain":[0,1],"nice":false,"zero":false},"axis":{"values":[0,0.2,0.4,0.6,0.8,1],"format":".1f","tickSize":26,"offset":18,"labelPadding":12,"title":null}}}}
  ],
  "resolve":{"scale":{"x":"independent"}}},
 {"width":267,"height":404,
  "layer":[
   {"transform":[{"filter":"datum.p===2 && datum.v==='CO'"}],
    "encoding":{"x":{"field":"x","type":"quantitative","scale":{"domain":[100,600],"nice":false,"zero":false},
       "axis":{"orient":"bottom","values":[100,200,300,400,500,600],"tickSize":{"condition":{"test":"datum.value % 200 === 0","value":27},"value":14},"labels":false,"title":null,"domainColor":"#ffab00","tickColor":"#ffab00"}},
     "y":{"field":"a","type":"quantitative","scale":{"domain":[0,1],"nice":false,"zero":false},"axis":null}},
    "layer":[
     {"mark":{"type":"line","color":"#ffab00","strokeWidth":11,"strokeCap":"round","strokeJoin":"round"},"encoding":{"detail":{"field":"s","type":"nominal"},"order":{"field":"a","sort":"descending"}}},
     {"mark":{"type":"point","filled":true,"size":121,"opacity":1},"encoding":{"color":{"field":"v","type":"nominal","title":null,"scale":{"domain":["θ","RH","CO","CH₄"],"range":["#d40000","#000000","#ffab00","#376b0d"]}}}}
    ]},
   {"transform":[{"filter":"datum.p===2 && datum.v==='CH₄'"}],
    "encoding":{"x":{"field":"x","type":"quantitative","scale":{"domain":[1600,3000],"nice":false,"zero":false},
       "axis":{"orient":"top","values":[1600,1800,2000,2200,2400,2600,2800,3000],"tickSize":{"condition":{"test":"datum.value % 1000 === 0","value":26},"value":13},"labels":false,"title":null,"domainColor":"#376b0d","tickColor":"#376b0d"}},
     "y":{"field":"a","type":"quantitative","scale":{"domain":[0,1],"nice":false,"zero":false},"axis":null}},
    "layer":[
     {"mark":{"type":"line","color":"#376b0d","strokeWidth":11,"strokeCap":"round","strokeJoin":"round"},"encoding":{"detail":{"field":"s","type":"nominal"},"order":{"field":"a","sort":"descending"}}},
     {"mark":{"type":"point","filled":true,"size":121,"opacity":1},"encoding":{"color":{"field":"v","type":"nominal","title":null,"scale":{"domain":["θ","RH","CO","CH₄"],"range":["#d40000","#000000","#ffab00","#376b0d"]}}}}
    ]},
   {"transform":[{"filter":"datum.p===2 && datum.v==='BL'"}],
    "mark":{"type":"rule","strokeDash":[12,16],"strokeWidth":5,"color":"#808080"},
    "encoding":{"x":{"datum":100,"type":"quantitative","scale":{"domain":[100,600],"nice":false,"zero":false},"axis":null},"x2":{"datum":600},
     "y":{"field":"a","type":"quantitative","scale":{"domain":[0,1],"nice":false,"zero":false},"axis":null}}},
   {"transform":[{"filter":"datum.p===2 && datum.v==='label'"}],
    "mark":{"type":"rect","fill":"white","stroke":"black","strokeWidth":2},
    "encoding":{"x":{"datum":311,"type":"quantitative","scale":{"domain":[100,600],"nice":false,"zero":false},"axis":null},"x2":{"datum":538},
     "y":{"datum":0.791,"type":"quantitative","scale":{"domain":[0,1],"nice":false,"zero":false},"axis":null},"y2":{"datum":0.938}}},
   {"transform":[{"filter":"datum.p===2 && datum.v==='label'"}],
    "mark":{"type":"text","fontSize":34,"color":"black","align":"center","baseline":"middle"},
    "encoding":{"text":{"field":"t"},"x":{"datum":423,"type":"quantitative","scale":{"domain":[100,600],"nice":false,"zero":false},"axis":null},
     "y":{"datum":0.864,"type":"quantitative","scale":{"domain":[0,1],"nice":false,"zero":false},"axis":null}}}
  ],
  "resolve":{"scale":{"x":"independent"}}}
],"spacing":56,"bounds":"flush"},
{"hconcat":[
 {"width":276,"height":400,
  "layer":[
   {"transform":[{"filter":"datum.p===3 && datum.v==='RH'"}],
    "encoding":{"x":{"field":"x","type":"quantitative","scale":{"domain":[0,70],"nice":false,"zero":false},
       "axis":{"orient":"top","values":[0,10,20,30,40,50,60,70],"tickSize":{"condition":{"test":"datum.value % 40 === 0","value":27},"value":14},"labels":false,"title":null,"domainColor":"black","tickColor":"black"}},
     "y":{"field":"a","type":"quantitative","scale":{"domain":[0,1],"nice":false,"zero":false},"axis":{"values":[0,0.2,0.4,0.6,0.8,1],"format":".1f","tickSize":26,"offset":18,"labelPadding":12,"title":null}}},
    "layer":[
     {"mark":{"type":"line","color":"#000000","strokeWidth":11,"strokeCap":"round","strokeJoin":"round"},"encoding":{"detail":{"field":"s","type":"nominal"},"order":{"field":"a","sort":"descending"}}},
     {"mark":{"type":"point","filled":true,"size":121,"opacity":1},"encoding":{"color":{"field":"v","type":"nominal","title":null,"scale":{"domain":["θ","RH","CO","CH₄"],"range":["#d40000","#000000","#ffab00","#376b0d"]}}}}
    ]},
   {"transform":[{"filter":"datum.p===3 && datum.v==='θ'"}],
    "encoding":{"x":{"field":"x","type":"quantitative","scale":{"domain":[278,300],"nice":false,"zero":false},
       "axis":{"orient":"bottom","values":[280,285,290,295,300],"tickSize":{"condition":{"test":"datum.value % 10 === 0","value":27},"value":14},"labelExpr":"datum.value % 10 === 0 ? datum.label : ''","labelPadding":21,"title":"θ (K)","titlePadding":12,"domainColor":"#d40000","tickColor":"#d40000","labelColor":"#d40000","titleColor":"#d40000"}},
     "y":{"field":"a","type":"quantitative","scale":{"domain":[0,1],"nice":false,"zero":false},"axis":{"values":[0,0.2,0.4,0.6,0.8,1],"format":".1f","tickSize":26,"offset":18,"labelPadding":12,"title":null}}},
    "layer":[
     {"mark":{"type":"line","color":"#d40000","strokeWidth":11,"strokeCap":"round","strokeJoin":"round"},"encoding":{"detail":{"field":"s","type":"nominal"},"order":{"field":"a","sort":"descending"}}},
     {"mark":{"type":"point","filled":true,"size":121,"opacity":1},"encoding":{"color":{"field":"v","type":"nominal","title":null,"scale":{"domain":["θ","RH","CO","CH₄"],"range":["#d40000","#000000","#ffab00","#376b0d"]}}}}
    ]},
   {"transform":[{"filter":"datum.p===3 && datum.v==='BL'"}],
    "mark":{"type":"rule","strokeDash":[12,16],"strokeWidth":5,"color":"#808080"},
    "encoding":{"x":{"datum":277.2,"type":"quantitative","scale":{"domain":[278,300],"nice":false,"zero":false},"axis":null},"x2":{"datum":305},
     "y":{"field":"a","type":"quantitative","scale":{"domain":[0,1],"nice":false,"zero":false},"axis":{"values":[0,0.2,0.4,0.6,0.8,1],"format":".1f","tickSize":26,"offset":18,"labelPadding":12,"title":null}}}}
  ],
  "resolve":{"scale":{"x":"independent"}}},
 {"width":276,"height":400,
  "layer":[
   {"transform":[{"filter":"datum.p===3 && datum.v==='CO'"}],
    "encoding":{"x":{"field":"x","type":"quantitative","scale":{"domain":[100,600],"nice":false,"zero":false},
       "axis":{"orient":"bottom","values":[100,200,300,400,500,600],"tickSize":{"condition":{"test":"datum.value % 200 === 0","value":27},"value":14},"labelExpr":"datum.value % 200 === 0 ? datum.label : ''","labelPadding":21,"title":"CO (ppbv)","titlePadding":12,"domainColor":"#ffab00","tickColor":"#ffab00","labelColor":"#ffab00","titleColor":"#ffab00"}},
     "y":{"field":"a","type":"quantitative","scale":{"domain":[0,1],"nice":false,"zero":false},"axis":null}},
    "layer":[
     {"mark":{"type":"line","color":"#ffab00","strokeWidth":11,"strokeCap":"round","strokeJoin":"round"},"encoding":{"detail":{"field":"s","type":"nominal"},"order":{"field":"a","sort":"descending"}}},
     {"mark":{"type":"point","filled":true,"size":121,"opacity":1},"encoding":{"color":{"field":"v","type":"nominal","title":null,"scale":{"domain":["θ","RH","CO","CH₄"],"range":["#d40000","#000000","#ffab00","#376b0d"]}}}}
    ]},
   {"transform":[{"filter":"datum.p===3 && datum.v==='CH₄'"}],
    "encoding":{"x":{"field":"x","type":"quantitative","scale":{"domain":[1600,3000],"nice":false,"zero":false},
       "axis":{"orient":"top","values":[1600,1800,2000,2200,2400,2600,2800,3000],"tickSize":{"condition":{"test":"datum.value % 1000 === 0","value":26},"value":13},"labels":false,"title":null,"domainColor":"#376b0d","tickColor":"#376b0d"}},
     "y":{"field":"a","type":"quantitative","scale":{"domain":[0,1],"nice":false,"zero":false},"axis":null}},
    "layer":[
     {"mark":{"type":"line","color":"#376b0d","strokeWidth":11,"strokeCap":"round","strokeJoin":"round"},"encoding":{"detail":{"field":"s","type":"nominal"},"order":{"field":"a","sort":"descending"}}},
     {"mark":{"type":"point","filled":true,"size":121,"opacity":1},"encoding":{"color":{"field":"v","type":"nominal","title":null,"scale":{"domain":["θ","RH","CO","CH₄"],"range":["#d40000","#000000","#ffab00","#376b0d"]}}}}
    ]},
   {"transform":[{"filter":"datum.p===3 && datum.v==='BL'"}],
    "mark":{"type":"rule","strokeDash":[12,16],"strokeWidth":5,"color":"#808080"},
    "encoding":{"x":{"datum":100,"type":"quantitative","scale":{"domain":[100,600],"nice":false,"zero":false},"axis":null},"x2":{"datum":637},
     "y":{"field":"a","type":"quantitative","scale":{"domain":[0,1],"nice":false,"zero":false},"axis":null}}},
   {"transform":[{"filter":"datum.p===3 && datum.v==='label'"}],
    "mark":{"type":"rect","fill":"white","stroke":"black","strokeWidth":2},
    "encoding":{"x":{"datum":260,"type":"quantitative","scale":{"domain":[100,600],"nice":false,"zero":false},"axis":null},"x2":{"datum":537},
     "y":{"datum":0.791,"type":"quantitative","scale":{"domain":[0,1],"nice":false,"zero":false},"axis":null},"y2":{"datum":0.94}}},
   {"transform":[{"filter":"datum.p===3 && datum.v==='label'"}],
    "mark":{"type":"text","fontSize":34,"color":"black","align":"center","baseline":"middle"},
    "encoding":{"text":{"field":"t"},"x":{"datum":398,"type":"quantitative","scale":{"domain":[100,600],"nice":false,"zero":false},"axis":null},
     "y":{"datum":0.866,"type":"quantitative","scale":{"domain":[0,1],"nice":false,"zero":false},"axis":null}}}
  ],
  "resolve":{"scale":{"x":"independent"}}}
],"spacing":60,"bounds":"flush"}
],
"spacing":62,
"bounds":"full",
"config":{
 "font":"Liberation Sans",
 "view":{"stroke":null},
 "axis":{"grid":false,"domainWidth":3,"tickWidth":3,"labelFontSize":33,"titleFontSize":48,"titleFontWeight":"normal","labelFlush":false,"labelOverlap":false,"labelFont":"Liberation Sans","titleFont":"Liberation Sans","domainColor":"black","tickColor":"black","labelColor":"black"},
 "legend":{"orient":"none","legendX":215,"legendY":114,"symbolSize":529,"symbolType":"circle","labelFontSize":32,"labelOffset":34,"rowPadding":12,"padding":0,"symbolStrokeWidth":0,"symbolOpacity":1,"labelFont":"Liberation Sans","labelColor":"black"}
}
}
